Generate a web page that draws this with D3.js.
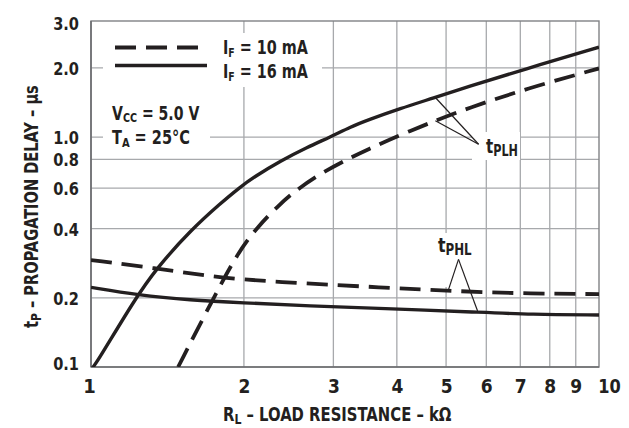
<!DOCTYPE html>
<html>
<head>
<meta charset="utf-8">
<script src="https://cdn.jsdelivr.net/npm/d3@7"></script>
<style>
  html, body { margin: 0; padding: 0; background: #fff; }
  svg { display: block; }
  text { font-family: "Liberation Sans Narrow", "DejaVu Sans Condensed", "Roboto Condensed", "Liberation Sans", sans-serif; font-weight: bold; font-stretch: condensed; fill: #231f20; }
</style>
</head>
<body>
<svg id="chart" width="629" height="428"></svg>
<script>
// ---- data ----
const xTickValues = [1, 2, 3, 4, 5, 6, 7, 8, 9, 10];
const xTickLabels = ["1", "2", "3", "4", "5", "6", "7", "8", "9", "10"];
const xGridValues = [2, 3, 4, 5, 6, 7, 8, 9];
const yTickValues = [0.1, 0.2, 0.4, 0.6, 0.8, 1.0, 2.0, 3.0];
const yTickLabels = ["0.1", "0.2", "0.4", "0.6", "0.8", "1.0", "2.0", "3.0"];
const yGridValues = [0.2, 0.4, 0.6, 0.8, 1.0, 2.0];

// [R_L (kΩ), t_P (µs)]
const tPLH_16mA = [[1.0, 0.098], [1.015, 0.100], [1.216, 0.1955], [1.352, 0.272], [1.572, 0.394], [1.80, 0.516],
  [1.962, 0.604], [2.094, 0.671], [2.362, 0.788], [2.666, 0.904], [2.961, 1.002], [3.242, 1.107],
  [3.497, 1.184], [4.064, 1.332], [4.727, 1.481], [5.497, 1.653], [7.10, 1.967], [10, 2.46]];
const tPLH_10mA = [[1.484, 0.100], [1.747, 0.202], [1.942, 0.312], [2.126, 0.407], [2.344, 0.506],
  [2.508, 0.578], [2.830, 0.695], [3.217, 0.807], [3.497, 0.8815], [4.064, 1.024], [4.763, 1.178],
  [5.497, 1.332], [7.21, 1.627], [10, 1.99]];
const tPHL_10mA = [[1.0, 0.292], [1.352, 0.2685], [1.80, 0.243], [2.625, 0.231], [3.713, 0.222],
  [5.02, 0.2146], [6.79, 0.209], [10, 0.2075]];
const tPHL_16mA = [[1.0, 0.222], [1.235, 0.2055], [1.572, 0.1955], [1.971, 0.1903], [2.705, 0.1841],
  [3.713, 0.180], [5.837, 0.173], [7.32, 0.1694], [10, 0.1683]];

// annotation leader lines: apex -> curve points
const leaderPLH = [[[5.794, 0.931], [4.763, 1.487]], [[5.794, 0.931], [4.763, 1.178]]];
const leaderPHL = [[[5.29, 0.294], [5.057, 0.2177]], [[5.29, 0.294], [5.767, 0.1751]]];

// ---- layout ----
const svg = d3.select("#chart");
const L = 91, R = 599, T = 21, B = 367;
const INK = "#231f20";
const x = d3.scaleLog().domain([1, 10]).range([L, R]);
const y = d3.scaleLog().domain([0.1, 3.2]).range([B, T]);

// grid
const gridColor = "#a7a9ac";
svg.append("g").selectAll("line").data(xGridValues).join("line")
  .attr("x1", d => x(d)).attr("x2", d => x(d)).attr("y1", T).attr("y2", B)
  .attr("stroke", gridColor).attr("stroke-width", 1.3);
svg.append("g").selectAll("line").data(yGridValues).join("line")
  .attr("y1", d => y(d)).attr("y2", d => y(d)).attr("x1", L).attr("x2", R)
  .attr("stroke", gridColor).attr("stroke-width", 1.3);

// frame
svg.append("rect").attr("x", L).attr("y", T).attr("width", R - L).attr("height", B - T)
  .attr("fill", "none").attr("stroke", "#808285").attr("stroke-width", 1.4);
svg.append("line").attr("x1", L).attr("x2", L).attr("y1", T).attr("y2", B)
  .attr("stroke", "#6d6e71").attr("stroke-width", 1.6);
svg.append("line").attr("x1", L).attr("x2", R).attr("y1", B).attr("y2", B)
  .attr("stroke", "#6d6e71").attr("stroke-width", 1.6);

// white boxes behind texts
const boxes = [[103, 33, 219, 54], [103, 96, 107, 54], [472, 132, 48, 28], [432, 233, 46, 54]];
svg.append("g").selectAll("rect").data(boxes).join("rect")
  .attr("x", d => d[0]).attr("y", d => d[1]).attr("width", d => d[2]).attr("height", d => d[3])
  .attr("fill", "#fff");

// curves (clipped to the plot frame)
svg.append("clipPath").attr("id", "plotclip").append("rect")
  .attr("x", L).attr("y", T).attr("width", R - L).attr("height", B - T);
const curves = svg.append("g").attr("clip-path", "url(#plotclip)");
const line = d3.line().x(d => x(d[0])).y(d => y(d[1])).curve(d3.curveBasis);
const dash = "21,10";
curves.append("path").datum(tPLH_16mA).attr("d", line).attr("fill", "none").attr("stroke", INK).attr("stroke-width", 3.4);
curves.append("path").datum(tPHL_16mA).attr("d", line).attr("fill", "none").attr("stroke", INK).attr("stroke-width", 3.4);
curves.append("path").datum(tPLH_10mA).attr("d", line).attr("fill", "none").attr("stroke", INK).attr("stroke-width", 3.8).attr("stroke-dasharray", dash);
curves.append("path").datum(tPHL_10mA).attr("d", line).attr("fill", "none").attr("stroke", INK).attr("stroke-width", 3.8).attr("stroke-dasharray", dash);

// leader lines
svg.append("g").selectAll("line").data(leaderPLH.concat(leaderPHL)).join("line")
  .attr("x1", d => x(d[0][0])).attr("y1", d => y(d[0][1]))
  .attr("x2", d => x(d[1][0])).attr("y2", d => y(d[1][1]))
  .attr("stroke", INK).attr("stroke-width", 1.2);

// axes tick labels
const xAxis = d3.axisBottom(x).tickValues(xTickValues).tickFormat((d, i) => xTickLabels[i]).tickSize(0);
const gx = svg.append("g").attr("transform", `translate(0,${B})`).call(xAxis);
gx.select(".domain").remove();
gx.selectAll("text").attr("y", 26).attr("dy", 0).style("font-size", "20px")
  .attr("fill", INK)
  .attr("transform", d => d === 10 ? "translate(10,0) scale(0.9,1)" : d === 1 ? "translate(-2,0)" : "scale(0.95,1)");

const yAxis = d3.axisLeft(y).tickValues(yTickValues).tickFormat((d, i) => yTickLabels[i]).tickSize(0);
const gy = svg.append("g").attr("transform", `translate(${L},0)`).call(yAxis);
gy.select(".domain").remove();
gy.selectAll("text").attr("x", -12).attr("dy", "0.36em").style("font-size", "18px")
  .attr("fill", INK)
  .attr("transform", d => {
    const dy = d === 0.1 ? -3.5 : d === 3.0 ? -4 : 0;
    return `translate(-12,${dy}) scale(0.9,1) translate(12,0)`;
  });
gx.attr("font-family", null).attr("font-size", null);
gy.attr("font-family", null).attr("font-size", null);

// legend
svg.append("line").attr("x1", 115).attr("x2", 200).attr("y1", 47.5).attr("y2", 47.5)
  .attr("stroke", INK).attr("stroke-width", 3.8).attr("stroke-dasharray", dash);
svg.append("line").attr("x1", 115).attr("x2", 207).attr("y1", 65.5).attr("y2", 65.5)
  .attr("stroke", INK).attr("stroke-width", 3.4);

function subText(xp, yp, size, parts, targetW) {
  const t = svg.append("text").attr("x", xp).attr("y", yp).style("font-size", size + "px");
  parts.forEach(p => {
    if (p.sub) {
      t.append("tspan").attr("dy", p.dy || 3).style("font-size", p.sub + "px").text(p.t);
    } else {
      t.append("tspan").attr("dy", p.dy || 0).text(p.t);
    }
  });
  if (targetW) {
    const w = t.node().getBBox().width;
    const s = targetW / w;
    t.attr("data-s", s);
    t.attr("transform", `translate(${xp},0) scale(${s},1) translate(${-xp},0)`);
  }
  return t;
}
subText(223, 54, 20, [{t: "I"}, {t: "F", sub: 13, dy: 3}, {t: " = 10 mA", dy: -3}], 85);
subText(223, 78, 20, [{t: "I"}, {t: "F", sub: 13, dy: 3}, {t: " = 16 mA", dy: -3}], 85);
subText(112, 120, 19, [{t: "V"}, {t: "CC", sub: 13, dy: 2}, {t: " = 5.0 V", dy: -2}], 88);
subText(112, 144, 19, [{t: "T"}, {t: "A", sub: 13, dy: 3}, {t: " = 25°C", dy: -3}], 78);

subText(486, 153, 20, [{t: "t"}, {t: "PLH", sub: 15, dy: 3}], 32);
subText(438, 252, 20, [{t: "t"}, {t: "PHL", sub: 15, dy: 3}], 34);

// axis titles
subText(223, 421, 19, [{t: "R"}, {t: "L", sub: 14, dy: 3}, {t: " – LOAD RESISTANCE – kΩ", dy: -3}], 229);
const yt = subText(0, 0, 19, [{t: "t"}, {t: "P", sub: 14, dy: 3}, {t: " – PROPAGATION DELAY – μs", dy: -3}], 243);
yt.attr("transform", `translate(38,328) rotate(-90) scale(${yt.attr("data-s")},1)`);
</script>
</body>
</html>
